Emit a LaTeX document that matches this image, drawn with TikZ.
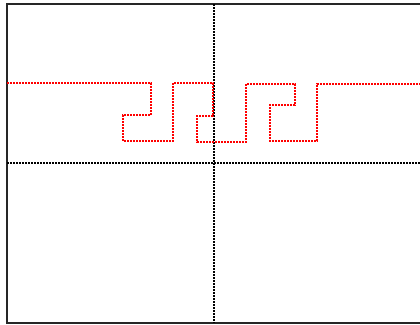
\documentclass[tikz,border=0pt]{standalone}
\begin{document}
\begin{tikzpicture}[x=1pt,y=-1pt,
  frame/.style={draw=black!85,line width=1.6pt},
  axis/.style={draw=black,line width=1.3pt,dash pattern=on 2pt off 1pt},
  curve/.style={draw=red,line width=1.3pt,dash pattern=on 2pt off 1pt}]
\useasboundingbox (0,0) rectangle (420,324);
\clip (0,0) rectangle (420,324);
\draw[frame] (7,4) rectangle (430,323);
\draw[axis] (214,4) -- (214,323);
\draw[axis] (7,163) -- (430,163);
\draw[curve] (7,83) -- (151,83) -- (151,115) -- (123,115) -- (123,141) -- (173,141)
  -- (173,83) -- (213,83) -- (213,116) -- (197,116) -- (197,142) -- (246,142)
  -- (246,84) -- (295,84) -- (295,105) -- (270,105) -- (270,141) -- (317,141)
  -- (317,84) -- (430,84);
\end{tikzpicture}
\end{document}
